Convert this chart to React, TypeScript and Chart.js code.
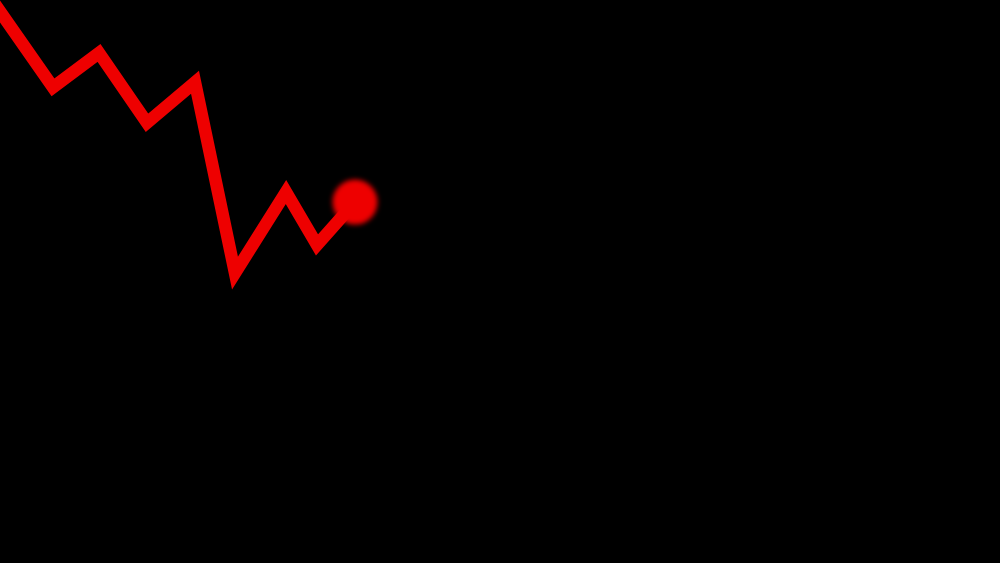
import React, { useEffect, useRef } from "react";
import { Chart, registerables } from "chart.js";

Chart.register(...registerables);

// time (x) and value (y)
const times = [-1, 5.3, 9.9, 14.7, 19.5, 23.5, 28.6, 31.7, 35.5];
const values = [100.5, 84.5, 90.6, 78.2, 85.4, 51.5, 65.9, 56.5, 64.1];

const blurPlugin = {
  id: "blurDot",
  beforeDatasetDraw(chart: any, args: any) {
    if (args.index === 1) {
      chart.ctx.save();
      chart.ctx.filter = "blur(2.5px)";
    }
  },
  afterDatasetDraw(chart: any, args: any) {
    if (args.index === 1) {
      chart.ctx.restore();
    }
  },
};

export default function App() {
  const ref = useRef<HTMLCanvasElement>(null);
  useEffect(() => {
    document.body.style.margin = "0";
    document.body.style.background = "#000";
    const linePts = times.map((t, i) => ({ x: t, y: values[i] }));
    const last = linePts[linePts.length - 1];
    const chart = new Chart(ref.current!, {
      type: "line",
      data: {
        datasets: [
          {
            data: linePts,
            borderColor: "#ee0000",
            borderWidth: 12.5,
            borderJoinStyle: "miter",
            pointRadius: 0,
            tension: 0,
            clip: false,
          },
          {
            data: [last],
            showLine: false,
            pointRadius: 22.5,
            pointBackgroundColor: "#ee0000",
            pointBorderWidth: 0,
            borderColor: "#ee0000",
            clip: false,
          },
        ],
      },
      options: {
        responsive: false,
        animation: false,
        layout: { padding: 0, autoPadding: false },
        plugins: { legend: { display: false }, tooltip: { enabled: false } },
        scales: {
          x: { type: "linear", min: 0, max: 100, display: false },
          y: { type: "linear", min: 0, max: 100, display: false },
        },
      },
      plugins: [blurPlugin],
    });
    return () => chart.destroy();
  }, []);
  return (
    <div style={{ position: "fixed", left: 0, top: 0, width: 1000, height: 563, background: "#000" }}>
      <canvas ref={ref} width={1000} height={563} style={{ display: "block" }} />
    </div>
  );
}
